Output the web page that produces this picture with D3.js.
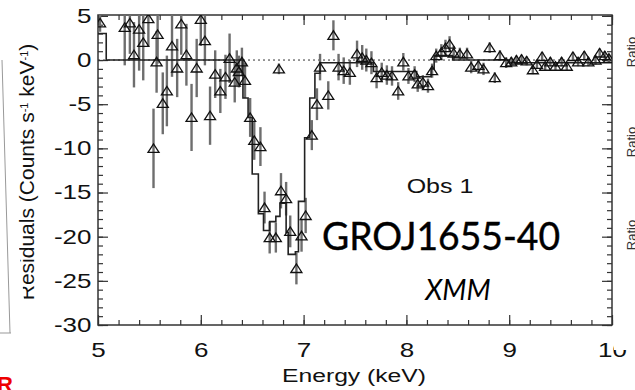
<!DOCTYPE html>
<html>
<head>
<meta charset="utf-8">
<script src="https://cdn.jsdelivr.net/npm/d3@7"></script>
<style>
  body { margin: 0; background: #fff; }
  svg { display: block; font-family: "Liberation Sans", Arial, sans-serif; }
</style>
</head>
<body>
<svg width="635" height="390"></svg>
<script>
// residual points
var energy = [5.02, 5.26, 5.31, 5.35, 5.40, 5.44, 5.49, 5.54, 5.57, 5.58, 5.63, 5.67, 5.72, 5.77, 5.81, 5.86, 5.91, 5.96,
  6.00, 6.04, 6.09, 6.14, 6.19, 6.24, 6.28, 6.33, 6.35, 6.37, 6.40, 6.43, 6.48, 6.52, 6.58, 6.62, 6.67, 6.73, 6.76,
  6.78, 6.83, 6.87, 6.93, 6.98, 7.02, 7.08, 7.13, 7.16, 7.24, 7.29, 7.34, 7.39, 7.45, 7.52, 7.57, 7.61, 7.66, 7.71,
  7.76, 7.81, 7.86, 7.92, 7.97, 8.02, 8.08, 8.11, 8.16, 8.21, 8.25, 8.29, 8.34, 8.38, 8.42, 8.46, 8.52, 8.59, 8.63,
  8.70, 8.75, 8.81, 8.86, 8.91, 8.97, 9.02, 9.07, 9.12, 9.17, 9.23, 9.27, 9.32, 9.35, 9.40, 9.45, 9.51, 9.56, 9.62,
  9.67, 9.73, 9.77, 9.84, 9.88, 9.93, 9.97];
var resid = [4.2, 3.7, 4.2, 0.6, 3.5, 2.0, 4.7, -10.0, -0.2, 2.9, -4.9, -3.5, 1.6, -0.9, 4.1, 0.6, -6.5, -0.9,
  4.6, 2.2, -6.3, -1.6, -3.5, -1.9, 0.2, -2.5, -0.9, -1.3, -0.2, -2.3, -6.5, -9.1, -9.8, -16.7, -20.1, -20.1, -1.0,
  -14.8, -15.7, -19.4, -23.6, -19.9, -17.6, -8.5, -5.0, -0.8, -4.0, 2.8, -0.8, -1.2, -1.4, 0.7, 0.3, 0.0, -0.3, -2.0,
  -1.4, -1.7, -1.8, -3.5, -0.2, -1.8, -1.6, -2.7, -2.5, -2.9, -1.2, 0.5, 0.9, 1.4, 1.8, 0.8, 0.7, 0.7, -0.8,
  -0.6, -1.0, 1.4, -2.0, 0.5, -0.3, -0.2, 0.0, 0.1, -0.1, -1.1, -0.5, 0.4, -0.7, -0.2, -0.7, -0.2, -0.7, 0.4,
  -0.2, 0.5, -0.2, 0.0, 0.8, 0.5, 0.2];
var errs = [1.0, 4.3, 3.5, 3.7, 4.7, 4.3, 3.2, 4.5, 3.5, 3.3, 3.5, 4.0, 3.5, 3.3, 3.5, 3.5, 3.8, 3.3,
  3.0, 2.8, 3.3, 2.7, 2.5, 2.5, 2.8, 2.3, 2.0, 1.8, 1.6, 2.0, 2.2, 2.2, 2.2, 1.8, 1.8, 1.7, 0.6,
  2.0, 1.9, 1.8, 1.8, 1.8, 2.0, 1.7, 1.8, 1.5, 1.6, 1.7, 1.5, 1.5, 1.4, 1.5, 1.4, 1.3, 1.3, 1.2,
  1.1, 1.1, 1.1, 1.0, 1.0, 0.9, 0.9, 0.9, 0.8, 0.8, 0.8, 0.8, 0.9, 0.9, 0.9, 0.8, 0.7, 0.7, 0.7,
  0.7, 0.7, 0.6, 0.6, 0.6, 0.6, 0.5, 0.5, 0.5, 0.5, 0.5, 0.5, 0.5, 0.5, 0.5, 0.5, 0.5, 0.5, 0.5,
  0.5, 0.5, 0.5, 0.5, 0.5, 0.5, 0.5];

// model (step histogram), value holds from each edge to the next
var modelE = [5.00, 5.08, 6.41, 6.46, 6.50, 6.56, 6.61, 6.67, 6.73, 6.77, 6.83, 6.85, 6.92, 6.95, 7.01, 7.06,
  7.11, 7.16, 7.68, 8.10, 8.24, 8.27, 8.45, 9.00, 10.0];
var modelV = [3.0, 0.0, -4.3, -6.5, -12.9, -17.4, -19.3, -18.3, -17.7, -16.2, -19.5, -22.0, -21.7, -16.0, -8.8, -4.3,
  -1.5, -0.3, -1.3, -1.9, -1.0, 0.5, 0.0, -0.3, -0.3];

var xMajor = [5, 6, 7, 8, 9, 10];
var yMajor = [5, 0, -5, -10, -15, -20, -25, -30];
var xLabel = "Energy (keV)";

var svg = d3.select("svg"),
    margin = {top: 15, right: 23, bottom: 65, left: 98},
    width = 635 - margin.left - margin.right,
    height = 390 - margin.top - margin.bottom;

var x = d3.scaleLinear().domain([5, 10]).range([0, width]),
    y = d3.scaleLinear().domain([-30, 5.1]).range([height, 0]);

var xMinor = d3.range(5, 10.001, 0.2).map(function(d) { return +d.toFixed(1); }),
    yMinor = d3.range(-30, 6, 1);

// bits of the neighbouring slides
var deco = svg.append("g");
deco.append("text")
    .attr("x", -3).attr("y", 392)
    .attr("fill", "#e00").attr("font-weight", "bold").attr("font-size", 22)
    .text("R");
["Ratio", "Ratio", "Ratio"].forEach(function(t, i) {
  deco.append("text")
      .attr("transform", "translate(636," + [52, 142, 235][i] + ") rotate(-90)")
      .attr("text-anchor", "middle").attr("font-size", 13).attr("fill", "#333")
      .text(t);
});

var g = svg.append("g")
    .attr("transform", "translate(" + margin.left + "," + margin.top + ")");

g.append("clipPath").attr("id", "clip")
  .append("rect").attr("width", width).attr("height", height);

function styleAxis(sel) {
  sel.select(".domain").remove();
  sel.selectAll(".tick line").attr("stroke", "#333").attr("stroke-width", 1.2);
  sel.selectAll("text").attr("font-size", 20).attr("fill", "#111")
     .attr("font-family", "Liberation Sans, Arial, sans-serif")
     .attr("transform", "scale(1.3,1)");
}
var fmt = function(d) { return String(d); };

g.append("g").attr("transform", "translate(0," + height + ")")
    .call(d3.axisBottom(x).tickValues(xMajor).tickSize(-10).tickPadding(18).tickFormat(fmt)).call(styleAxis);
g.append("g").attr("transform", "translate(0," + height + ")")
    .call(d3.axisBottom(x).tickValues(xMinor).tickSize(-5).tickFormat("")).call(styleAxis);
g.append("g")
    .call(d3.axisTop(x).tickValues(xMajor).tickSize(-10).tickFormat("")).call(styleAxis);
g.append("g")
    .call(d3.axisTop(x).tickValues(xMinor).tickSize(-5).tickFormat("")).call(styleAxis);
g.append("g")
    .call(d3.axisLeft(y).tickValues(yMajor).tickSize(-10).tickPadding(5).tickFormat(fmt)).call(styleAxis);
g.append("g")
    .call(d3.axisLeft(y).tickValues(yMinor).tickSize(-5).tickFormat("")).call(styleAxis);
g.append("g").attr("transform", "translate(" + width + ",0)")
    .call(d3.axisRight(y).tickValues(yMajor).tickSize(-10).tickFormat("")).call(styleAxis);
g.append("g").attr("transform", "translate(" + width + ",0)")
    .call(d3.axisRight(y).tickValues(yMinor).tickSize(-5).tickFormat("")).call(styleAxis);

g.append("rect")
    .attr("width", width).attr("height", height)
    .attr("fill", "none").attr("stroke", "#333").attr("stroke-width", 1.5);

var plot = g.append("g").attr("clip-path", "url(#clip)");

plot.append("line")
    .attr("x1", 0).attr("x2", width)
    .attr("y1", y(0)).attr("y2", y(0))
    .attr("stroke", "#333").attr("stroke-dasharray", "2,3");

var pts = energy.map(function(e, i) { return {e: e, v: resid[i], err: errs[i]}; });

plot.selectAll(".bar")
    .data(pts)
    .enter().append("line")
    .attr("class", "bar")
    .attr("x1", function(d) { return x(d.e); })
    .attr("x2", function(d) { return x(d.e); })
    .attr("y1", function(d) { return y(d.v - d.err); })
    .attr("y2", function(d) { return y(d.v + d.err); })
    .attr("stroke", "#6e6e6e").attr("stroke-width", 2.4);

var model = modelE.map(function(e, i) { return [e, modelV[i]]; });
plot.append("path")
    .datum(model)
    .attr("fill", "none").attr("stroke", "#222").attr("stroke-width", 1.6)
    .attr("d", d3.line().curve(d3.curveStepAfter)
      .x(function(d) { return x(d[0]); })
      .y(function(d) { return y(d[1]); }));

plot.selectAll(".pt")
    .data(pts)
    .enter().append("path")
    .attr("class", "pt")
    .attr("transform", function(d) { return "translate(" + x(d.e) + "," + y(d.v) + ")"; })
    .attr("d", "M-5.5,4L0,-4.5L5.5,4Z")
    .attr("fill", "none").attr("stroke", "#111").attr("stroke-width", 1.3);

// axis titles
g.append("text")
    .attr("transform", "translate(" + (width / 2 - 1) + "," + (height + 57) + ") scale(1.3,1)")
    .attr("text-anchor", "middle").attr("font-size", 19).attr("fill", "#111")
    .text(xLabel);

var yl = svg.append("text")
    .attr("transform", "translate(34,172) rotate(-90)")
    .attr("text-anchor", "middle").attr("font-size", 21).attr("fill", "#111");
yl.append("tspan").text("Residuals (Counts s");
yl.append("tspan").attr("font-size", 11).attr("baseline-shift", "super").text("-1");
yl.append("tspan").text(" keV");
yl.append("tspan").attr("font-size", 11).attr("baseline-shift", "super").text("-1");
yl.append("tspan").text(")");

// tilted edge of the slide behind, covering part of the label
svg.append("polygon")
    .attr("points", "0,140 13,185 25,310 25,336 0,336")
    .attr("fill", "#fff");
svg.append("line")
    .attr("x1", 2).attr("y1", 60).attr("x2", 10).attr("y2", 333)
    .attr("stroke", "#999").attr("stroke-width", 1);
svg.append("line")
    .attr("x1", 0).attr("y1", 333).attr("x2", 11).attr("y2", 333)
    .attr("stroke", "#999").attr("stroke-width", 1);

// top half of the "0" in "10" is hidden
svg.append("rect").attr("x", 614).attr("y", 332).attr("width", 21).attr("height", 18).attr("fill", "#fff");

// annotations
svg.append("text")
    .attr("transform", "translate(440,193) scale(1.25,1)")
    .attr("text-anchor", "middle").attr("font-size", 20).attr("fill", "#111")
    .text("Obs 1");
svg.append("text")
    .attr("x", 441).attr("y", 250)
    .attr("text-anchor", "middle").attr("font-size", 38)
    .attr("font-family", "Lato, sans-serif").attr("fill", "#000")
    .attr("stroke", "#000").attr("stroke-width", 0.4)
    .attr("textLength", 238).attr("lengthAdjust", "spacingAndGlyphs")
    .text("GROJ1655-40");
svg.append("text")
    .attr("x", 458).attr("y", 300)
    .attr("text-anchor", "middle").attr("font-size", 28).attr("font-style", "italic")
    .attr("font-family", "Lato, sans-serif").attr("fill", "#000")
    .text("XMM");
</script>
</body>
</html>
